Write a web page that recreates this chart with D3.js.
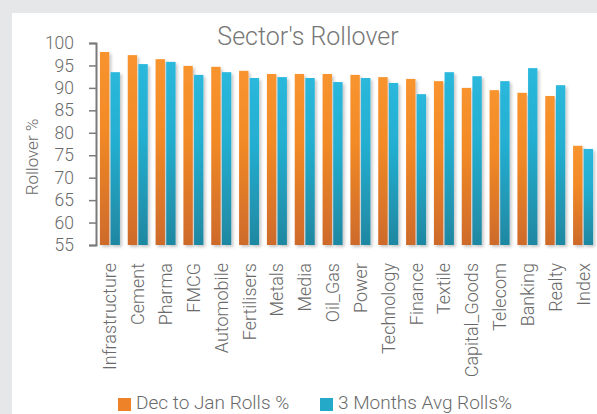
<!DOCTYPE html>
<html>
<head>
<meta charset="utf-8">
<script src="https://cdn.jsdelivr.net/npm/d3@7"></script>
<style>
  html, body { margin: 0; padding: 0; background: #e6e7e9; }
  svg { display: block; }
  text { font-family: Roboto, "DejaVu Sans Condensed", sans-serif; font-weight: 300; fill: #6a6a6a; }
</style>
</head>
<body>
<div id="chart"></div>
<script>
// data
const sectors = ['Infrastructure', 'Cement', 'Pharma', 'FMCG', 'Automobile', 'Fertilisers', 'Metals', 'Media',
  'Oil_Gas', 'Power', 'Technology', 'Finance', 'Textile', 'Capital_Goods', 'Telecom', 'Banking', 'Realty', 'Index']
const decToJan = [98.0, 97.3, 96.4, 94.9, 94.7, 93.8, 93.1, 93.1, 93.1, 92.9, 92.4, 92.0, 91.5, 90.0, 89.5, 88.9, 88.2, 77.1]
const threeMonthAvg = [93.5, 95.3, 95.8, 92.9, 93.5, 92.2, 92.4, 92.2, 91.3, 92.2, 91.1, 88.6, 93.5, 92.6, 91.5, 94.4, 90.6, 76.4]
const seriesNames = ['Dec to Jan Rolls %', '3 Months Avg Rolls%']
const yTicks = [55, 60, 65, 70, 75, 80, 85, 90, 95, 100]

const W = 597, H = 414
const margin = { top: 43, right: 0, bottom: 169, left: 96 }

const svg = d3.select('#chart').append('svg').attr('width', W).attr('height', H)
const defs = svg.append('defs')

// gradients for the bars
const grads = [['gOrange', '#f8942f', '#f28a26', '#cd6a2b'], ['gBlue', '#2ab8dc', '#24aed0', '#1f87a1']]
grads.forEach(g => {
  const lg = defs.append('linearGradient').attr('id', g[0]).attr('x1', 0).attr('y1', 0).attr('x2', 0).attr('y2', 1)
  lg.append('stop').attr('offset', '0%').attr('stop-color', g[1])
  lg.append('stop').attr('offset', '40%').attr('stop-color', g[2])
  lg.append('stop').attr('offset', '100%').attr('stop-color', g[3])
})
const f = defs.append('filter').attr('id', 'shadow').attr('x', '-50%').attr('y', '-10%').attr('width', '200%').attr('height', '120%')
f.append('feDropShadow').attr('dx', 2).attr('dy', 2).attr('stdDeviation', 1.5).attr('flood-color', '#000').attr('flood-opacity', 0.22)

// white panel
svg.append('rect').attr('x', 12).attr('y', 13).attr('width', W - 12).attr('height', H - 13).attr('fill', '#ffffff')

const x = d3.scaleBand().domain(sectors).range([margin.left, W - margin.right]).padding(0)
const groupW = 20
const x1 = d3.scaleBand().domain(seriesNames).range([0, groupW]).paddingInner(0.12)
const y = d3.scaleLinear().domain([55, 100]).range([H - margin.bottom, margin.top])

const tidy = []
sectors.forEach((s, i) => {
  tidy.push({ sector: s, series: seriesNames[0], value: decToJan[i] })
  tidy.push({ sector: s, series: seriesNames[1], value: threeMonthAvg[i] })
})
const fillOf = { [seriesNames[0]]: 'url(#gOrange)', [seriesNames[1]]: 'url(#gBlue)' }
const swatch = { [seriesNames[0]]: '#ee8229', [seriesNames[1]]: '#25a9c9' }

svg.append('g')
  .selectAll('rect')
  .data(tidy)
  .join('rect')
  .attr('x', d => x(d.sector) + (x.bandwidth() - groupW) / 2 + x1(d.series))
  .attr('y', d => y(d.value))
  .attr('width', x1.bandwidth())
  .attr('height', d => y(55) - y(d.value))
  .attr('fill', d => fillOf[d.series])
  .attr('filter', 'url(#shadow)')

// y axis
const yAxis = svg.append('g')
  .attr('transform', `translate(${margin.left},0)`)
  .call(d3.axisLeft(y).tickValues(yTicks).tickSize(7).tickPadding(15))
yAxis.select('.domain').attr('stroke', '#7a7a7a').attr('stroke-width', 2)
yAxis.selectAll('.tick line').attr('stroke', '#7a7a7a').attr('stroke-width', 1.5)
yAxis.selectAll('.tick text').style('font-size', '17.5px').style('fill', '#6a6a6a').attr('font-family', null)

// x labels
svg.append('g')
  .selectAll('text')
  .data(sectors)
  .join('text')
  .attr('transform', d => `translate(${x(d) + x.bandwidth() / 2 + 6.5},${263}) rotate(-90)`)
  .attr('text-anchor', 'end')
  .style('font-size', '18px')
  .text(d => d)

// title
svg.append('text')
  .attr('x', 308).attr('y', 45)
  .attr('text-anchor', 'middle')
  .style('font-size', '25px')
  .style('fill', '#777777')
  .text("Sector's Rollover")

// y label
svg.append('text')
  .attr('transform', `translate(38,${157}) rotate(-90)`)
  .attr('text-anchor', 'middle')
  .style('font-size', '17px')
  .text('Rollover %')

// legend (kept just inside the bottom edge)
const legendX = [118, 320]
const lg = svg.append('g').selectAll('g').data(seriesNames).join('g')
  .attr('transform', (d, i) => `translate(${legendX[i]},396)`)
lg.append('rect').attr('y', 2).attr('width', 13).attr('height', 13).attr('fill', d => swatch[d])
lg.append('text').attr('x', 18).attr('y', 13).style('font-size', '19px').text(d => d)
</script>
</body>
</html>
